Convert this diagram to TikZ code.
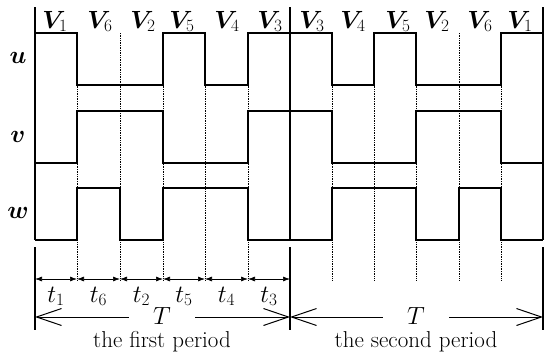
\documentclass[tikz,border=0pt]{standalone}
\usepackage{bm}
\usetikzlibrary{arrows.meta}
\begin{document}
\begin{tikzpicture}[x=1pt,y=-1pt,
  wave/.style={line width=1.3pt},
  guide/.style={line width=0.7pt, densely dotted},
  lbl/.style={font=\fontsize{23}{27}\selectfont, inner sep=0pt, anchor=base},
  dim/.style={line width=0.7pt, {Latex[length=7pt,width=5pt]}-{Latex[length=7pt,width=5pt]}},
  per/.style={line width=1pt, {Straight Barb[length=25pt,width=17pt]}-{Straight Barb[length=25pt,width=17pt]}}]
\useasboundingbox (0,0) rectangle (546,356);
% guides
\foreach \x in {77,120,163,205,248,332,374,416,459,501}
  \draw[guide] (\x,33) -- (\x,280);
% frame lines
\foreach \x in {35,290,543} {
  \draw[wave] (\x,7) -- (\x,240);
  \draw[wave] (\x,247) -- (\x,330);
}
% waveforms
\draw[wave] (35,33) -- (77,33) -- (77,85) -- (163,85) -- (163,33) -- (205,33) -- (205,85) -- (248,85) -- (248,33) -- (332,33) -- (332,85) -- (374,85) -- (374,33) -- (416,33) -- (416,85) -- (501,85) -- (501,33) -- (543,33);
\draw[wave] (35,163) -- (77,163) -- (77,111) -- (163,111) -- (163,163) -- (248,163) -- (248,111) -- (332,111) -- (332,163) -- (416,163) -- (416,111) -- (501,111) -- (501,163) -- (543,163);
\draw[wave] (35,240) -- (77,240) -- (77,188) -- (120,188) -- (120,240) -- (163,240) -- (163,188) -- (248,188) -- (248,240) -- (332,240) -- (332,188) -- (416,188) -- (416,240) -- (459,240) -- (459,188) -- (501,188) -- (501,240) -- (543,240);
% phase labels
\node[lbl] (lu) at (18,63) {$\bm{u}$};
\node[lbl] (lv) at (18,142) {$\bm{v}$};
\node[lbl] (lw) at (18,218) {$\bm{w}$};
% vector labels
\node[lbl] (a1) at (55,28) {$\bm{V}_1$};
\node[lbl] (a2) at (100,28) {$\bm{V}_6$};
\node[lbl] (a3) at (143,28) {$\bm{V}_2$};
\node[lbl] (a4) at (182,28) {$\bm{V}_5$};
\node[lbl] (a5) at (227,28) {$\bm{V}_4$};
\node[lbl] (a6) at (270,28) {$\bm{V}_3$};
\node[lbl] (b1) at (312,28) {$\bm{V}_3$};
\node[lbl] (b2) at (353,28) {$\bm{V}_4$};
\node[lbl] (b3) at (398,28) {$\bm{V}_5$};
\node[lbl] (b4) at (437,28) {$\bm{V}_2$};
\node[lbl] (b5) at (480,28) {$\bm{V}_6$};
\node[lbl] (b6) at (520,28) {$\bm{V}_1$};
% interval arrows
\foreach \a/\b/\t in {35/77/1,77/120/6,120/163/2,163/205/5,205/248/4,248/290/3} {
  \coordinate (s\t) at (\a,279);
  \coordinate (e\t) at (\b,279);
  \draw[dim] (s\t) -- (e\t);
  \node[lbl] (t\t) at ({(\a+\b)/2},302) {$t_{\t}$};
}
% period arrows
\coordinate (p0) at (35,317);
\coordinate (p1) at (290,317);
\coordinate (p2) at (543,317);
\draw[per] (p0) -- (p1);
\draw[per] (p1) -- (p2);
\node[lbl, fill=white, inner xsep=24pt] (T1) at (162,324) {$T$};
\node[lbl, fill=white, inner xsep=24pt] (T2) at (416,324) {$T$};
\node[lbl] (n1) at (162,347) {the first period};
\node[lbl] (n2) at (416,347) {the second period};
\end{tikzpicture}
\end{document}
